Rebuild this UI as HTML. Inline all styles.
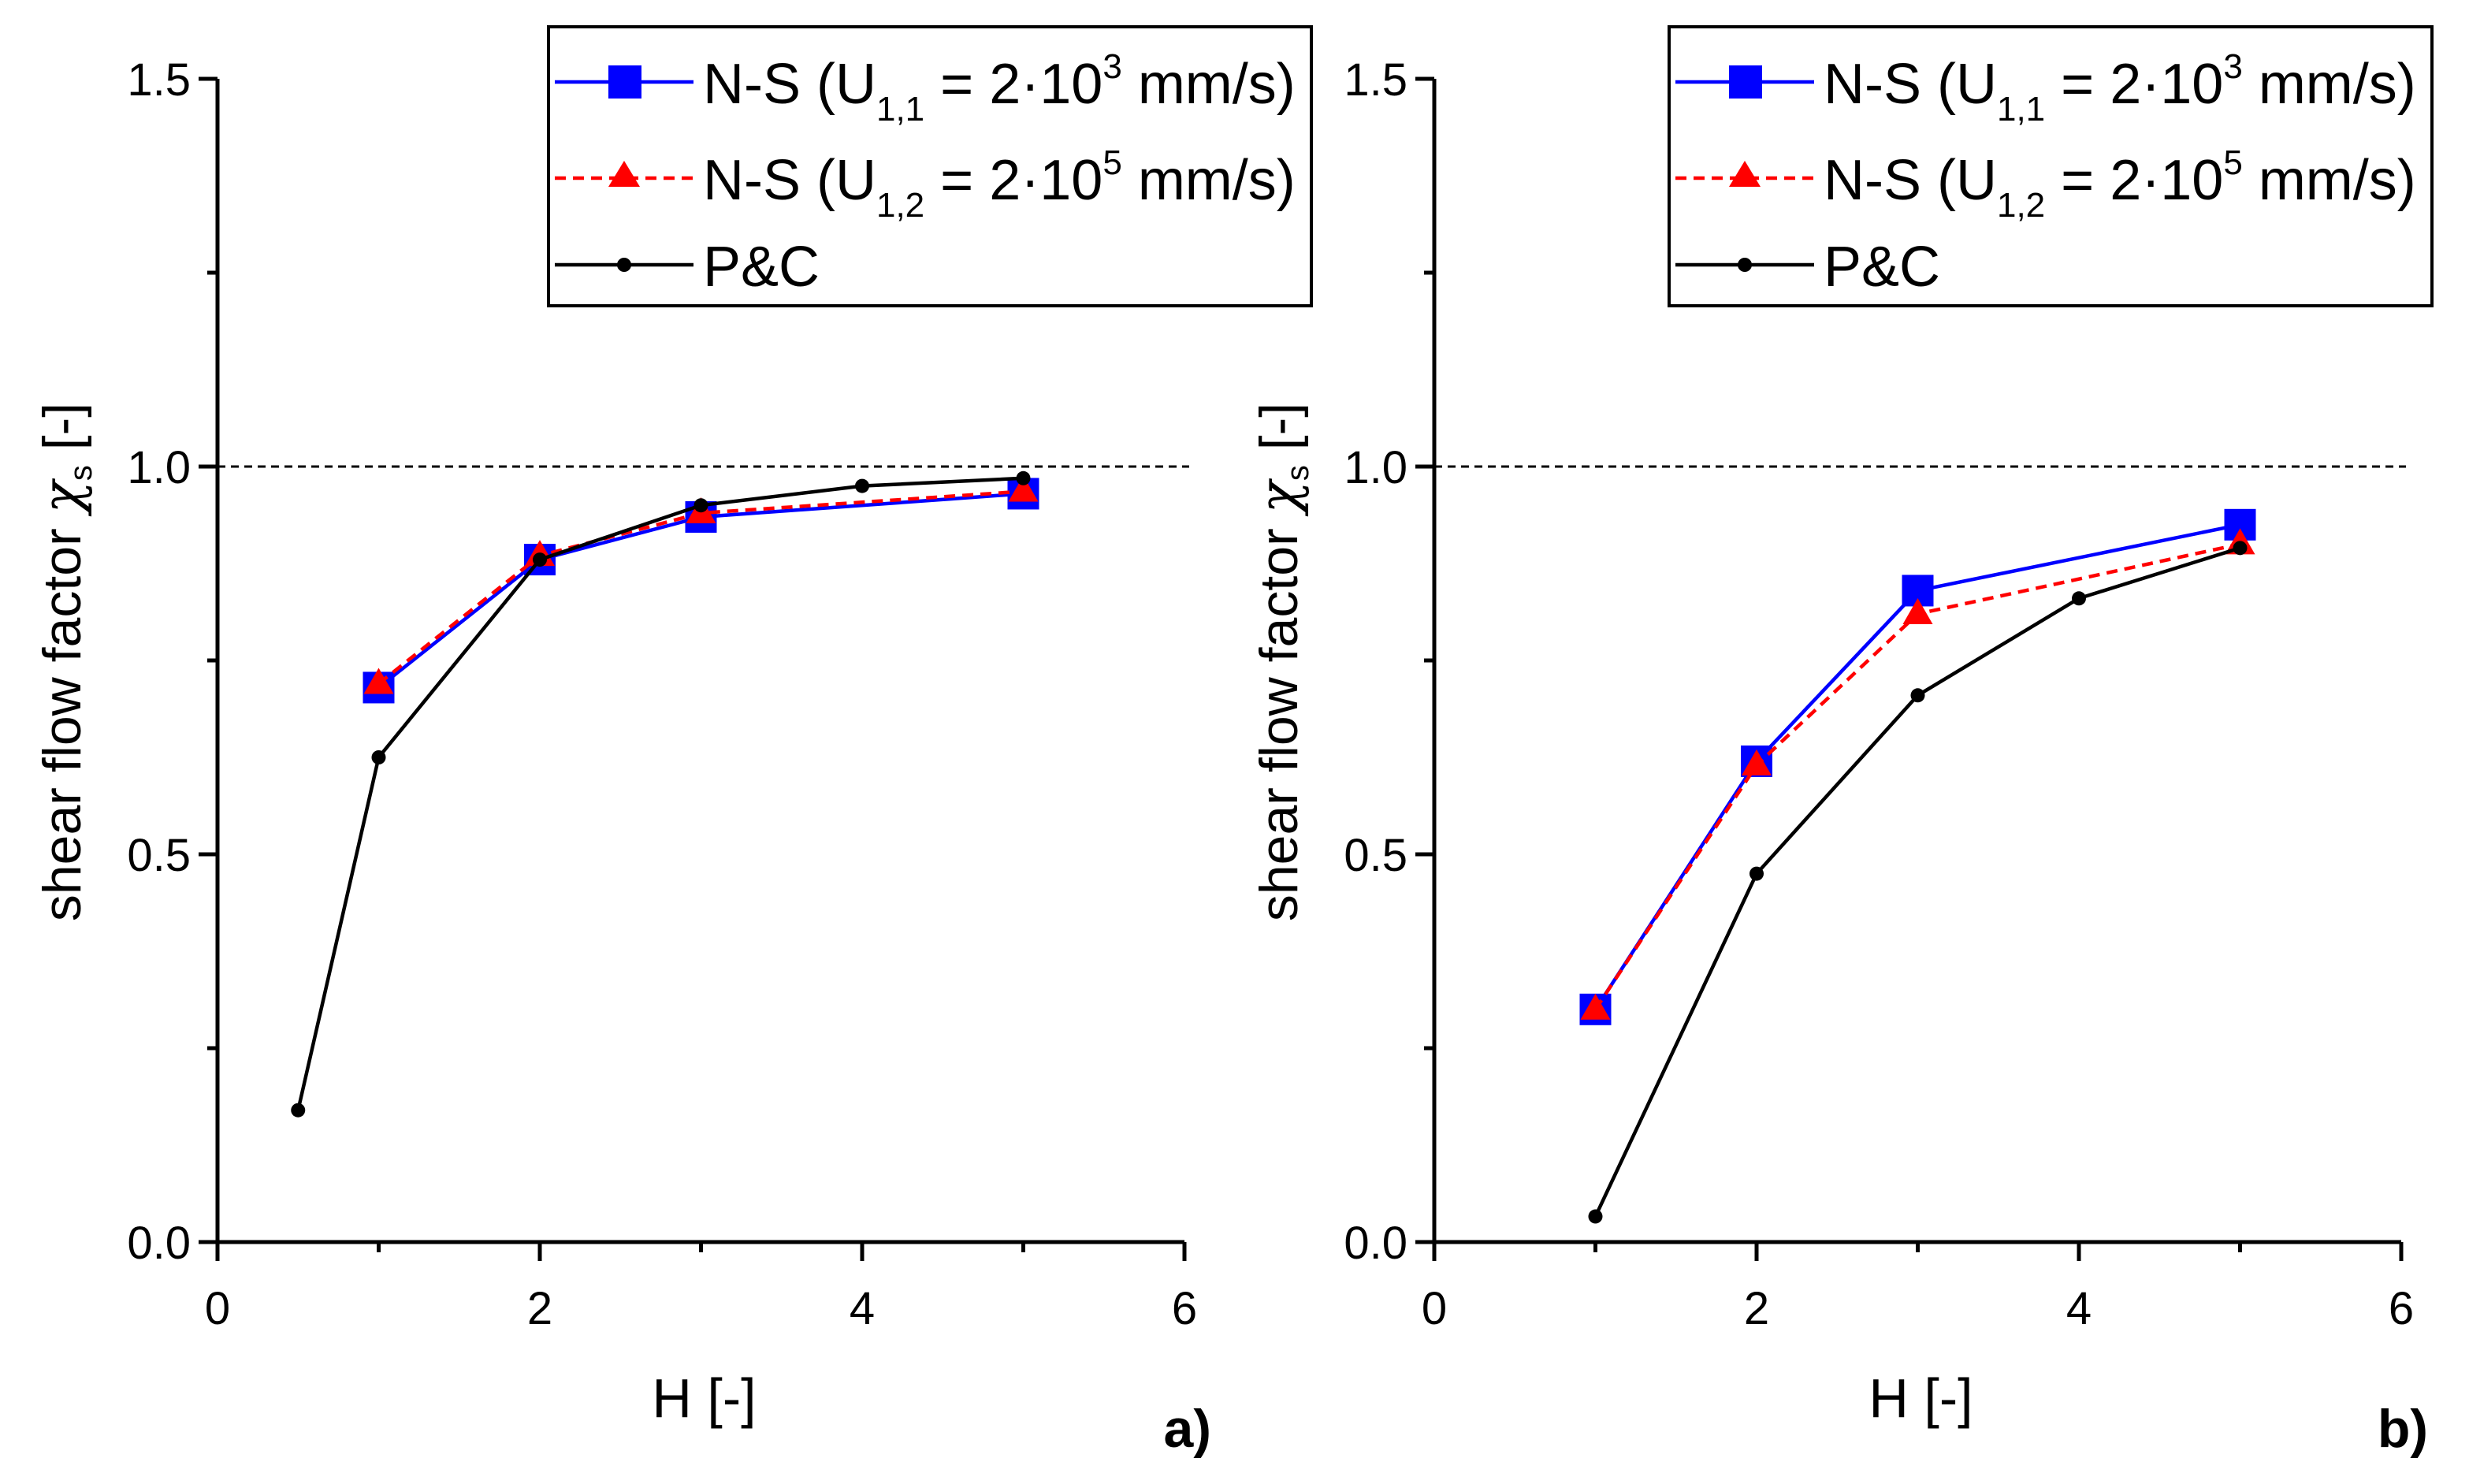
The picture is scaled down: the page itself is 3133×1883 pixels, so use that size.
<!DOCTYPE html>
<html><head><meta charset="utf-8"><style>html,body{margin:0;padding:0;background:#fff}svg{display:block}text{font-family:"Liberation Sans",sans-serif}</style></head>
<body>
<svg id="chart" width="3133" height="1883" viewBox="0 0 3133 1883" xmlns="http://www.w3.org/2000/svg"></svg>
<script>
const xTicks = [0, 2, 4, 6];
const xMinorTicks = [1, 3, 5];
const yTicks = [0.0, 0.5, 1.0, 1.5];
const yTickLabels = ["0.0", "0.5", "1.0", "1.5"];
const yMinorTicks = [0.25, 0.75, 1.25];
const aNsX = [1, 2, 3, 5];
const aNs1 = [0.715, 0.88, 0.935, 0.965];
const aNs2 = [0.72, 0.885, 0.94, 0.968];
const aPcX = [0.5, 1, 2, 3, 4, 5];
const aPc = [0.17, 0.625, 0.88, 0.95, 0.975, 0.985];
const bNsX = [1, 2, 3, 5];
const bNs1 = [0.30, 0.62, 0.84, 0.925];
const bNs2 = [0.30, 0.615, 0.81, 0.90];
const bPcX = [1, 2, 3, 4, 5];
const bPc = [0.033, 0.475, 0.705, 0.83, 0.895];

const NS = "http://www.w3.org/2000/svg";
const svg = document.getElementById('chart');
function mk(tag, attrs, parent, text) {
  const e = document.createElementNS(NS, tag);
  for (const k in attrs) e.setAttribute(k, attrs[k]);
  if (text !== undefined) e.textContent = text;
  (parent || svg).appendChild(e);
  return e;
}

function panel(id, x0px, legendX, data, label) {
  const g = mk('g', {});
  
  
  const xs = v => x0px + v * 204.5;
  const ys = v => 1576 - v * 984;
  const ref = mk('line', {x1: x0px, x2: xs(6) + 6, y1: ys(1), y2: ys(1), stroke: '#000', 'stroke-width': 3, 'stroke-dasharray': '10 7'}, g);
  
  
  const ax = mk('path', {d: `M${x0px} ${ys(1.5)} V${ys(0)} H${xs(6)}`, fill: 'none', stroke: '#000', 'stroke-width': 5}, g);
  
  
  yTicks.forEach((v, i) => {
    mk('line', {x1: x0px - 24, x2: x0px, y1: ys(v), y2: ys(v), stroke: '#000', 'stroke-width': 5}, g);
    const t = mk('text', {x: x0px - 34, y: ys(v) + 21, 'text-anchor': 'end', 'font-size': 58}, g, yTickLabels[i]);
    
    
  });
  yMinorTicks.forEach(v => mk('line', {x1: x0px - 13, x2: x0px, y1: ys(v), y2: ys(v), stroke: '#000', 'stroke-width': 5}, g));
  xTicks.forEach(v => {
    mk('line', {x1: xs(v), x2: xs(v), y1: ys(0), y2: ys(0) + 24, stroke: '#000', 'stroke-width': 5}, g);
    const t = mk('text', {x: xs(v), y: 1680, 'text-anchor': 'middle', 'font-size': 58}, g, String(v));
    
    
  });
  xMinorTicks.forEach(v => mk('line', {x1: xs(v), x2: xs(v), y1: ys(0), y2: ys(0) + 13, stroke: '#000', 'stroke-width': 5}, g));
  const xt = mk('text', {x: xs(3) + 4, y: 1798, 'text-anchor': 'middle', 'font-size': 70}, g, 'H [-]');
  
  
  const yt = mk('text', {transform: `translate(${x0px - 174},840) rotate(-90)`, 'text-anchor': 'middle', 'font-size': 68}, g);
  
  
  mk('tspan', {}, yt, 'shear flow factor ');
  mk('tspan', {'font-family': 'DejaVu Serif, serif', 'font-style': 'italic'}, yt, 'χ');
  mk('tspan', {'font-size': 40, dy: 14}, yt, 's');
  mk('tspan', {dy: -14}, yt, ' [-]');
  const pl = mk('text', {x: xs(6) + 34, y: 1836, 'text-anchor': 'end', 'font-size': 68, 'font-weight': 'bold'}, g, label);
  
  

  const line = (X, Y, color, w, dash, name) => {
    const p = mk('polyline', {points: X.map((x, i) => xs(x) + ',' + ys(Y[i])).join(' '), fill: 'none', stroke: color, 'stroke-width': w, 'stroke-dasharray': dash || 'none'}, g);
    
    
  };
  line(data.nsX, data.ns1, '#0000ff', 4.5, null, 'series-ns1-line');
  data.nsX.forEach((x, i) => {
    const r = mk('rect', {x: xs(x) - 20, y: ys(data.ns1[i]) - 20, width: 40, height: 40, fill: '#0000ff'}, g);
    
    
  });
  line(data.nsX, data.ns2, '#ff0000', 4.5, '14 9', 'series-ns2-line');
  data.nsX.forEach((x, i) => {
    const cx = xs(x), cy = ys(data.ns2[i]);
    const t = mk('polygon', {points: `${cx},${cy - 20} ${cx - 19},${cy + 13} ${cx + 19},${cy + 13}`, fill: '#ff0000'}, g);
    
    
  });
  line(data.pcX, data.pc, '#000', 4.5, null, 'series-pc-line');
  data.pcX.forEach((x, i) => {
    const c = mk('circle', {cx: xs(x), cy: ys(data.pc[i]), r: 9, fill: '#000'}, g);
    
    
  });

  const lx = legendX;
  const lg = mk('g', {}, g);
  
  
  mk('rect', {x: lx, y: 34, width: 968, height: 354, fill: '#fff', stroke: '#000', 'stroke-width': 4}, lg);
  const rows = [104, 226, 336];
  mk('line', {x1: lx + 8, x2: lx + 184, y1: rows[0], y2: rows[0], stroke: '#0000ff', 'stroke-width': 4.5}, lg);
  mk('rect', {x: lx + 76, y: rows[0] - 21, width: 42, height: 42, fill: '#0000ff'}, lg);
  mk('line', {x1: lx + 8, x2: lx + 184, y1: rows[1], y2: rows[1], stroke: '#ff0000', 'stroke-width': 4.5, 'stroke-dasharray': '14 9'}, lg);
  mk('polygon', {points: `${lx + 96},${rows[1] - 22} ${lx + 76},${rows[1] + 11} ${lx + 116},${rows[1] + 11}`, fill: '#ff0000'}, lg);
  mk('line', {x1: lx + 8, x2: lx + 184, y1: rows[2], y2: rows[2], stroke: '#000', 'stroke-width': 4.5}, lg);
  mk('circle', {cx: lx + 96, cy: rows[2], r: 9, fill: '#000'}, lg);
  const texts = [['1,1', '3'], ['1,2', '5']];
  texts.forEach((tt, i) => {
    const t = mk('text', {x: lx + 196, y: rows[i] + 27, 'font-size': 72}, lg);
    
    
    mk('tspan', {}, t, 'N-S (U');
    mk('tspan', {'font-size': 44, dy: 22}, t, tt[0]);
    mk('tspan', {dy: -22}, t, ' = 2·10');
    mk('tspan', {'font-size': 44, dy: -32}, t, tt[1]);
    mk('tspan', {dy: 32}, t, ' mm/s)');
  });
  const t3 = mk('text', {x: lx + 196, y: rows[2] + 27, 'font-size': 72}, lg, 'P&C');
  
  
}

panel('a', 276, 696, {nsX: aNsX, ns1: aNs1, ns2: aNs2, pcX: aPcX, pc: aPc}, 'a)');
panel('b', 1820, 2118, {nsX: bNsX, ns1: bNs1, ns2: bNs2, pcX: bPcX, pc: bPc}, 'b)');
</script>
</body></html>
